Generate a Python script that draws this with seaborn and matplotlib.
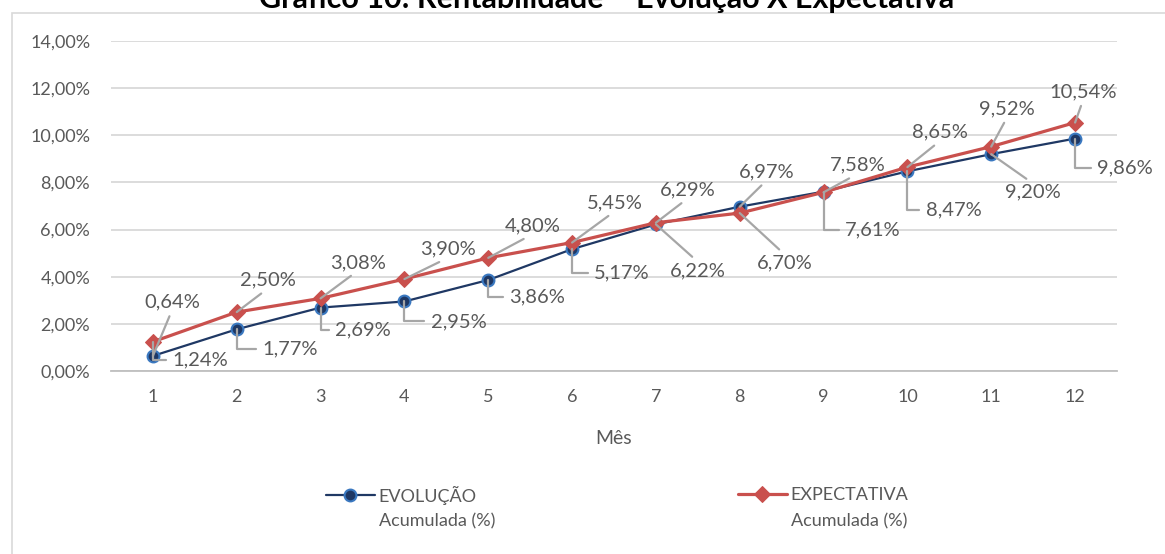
import matplotlib
matplotlib.use("Agg")
import matplotlib.pyplot as plt
import matplotlib.ticker as mticker
from matplotlib.patches import Rectangle
import pandas as pd
import seaborn as sns

# ── data ────────────────────────────────────────────────────────────────
meses = list(range(1, 13))
evolucao = [0.64, 1.77, 2.69, 2.95, 3.86, 5.17, 6.22, 6.97, 7.61, 8.47, 9.20, 9.86]
expectativa = [1.24, 2.50, 3.08, 3.90, 4.80, 5.45, 6.29, 6.70, 7.58, 8.65, 9.52, 10.54]
serie_nomes = ["EVOLUÇÃO", "EXPECTATIVA"]
legenda_sub = "Acumulada (%)"
titulo = "Gráfico 10: Rentabilidade – Evolução X Expectativa"
eixo_x = "Mês"
y_ticks = [0, 2, 4, 6, 8, 10, 12, 14]

# label layout: pixel offset from the point (screen y down) and leader type
pos_evol = [(19, -54, "up"), (53, 20, "elbow"), (42, 22, "elbow"), (54, 20, "elbow"),
            (49, 17, "elbow"), (50, 24, "elbow"), (42, 46, "down"), (27, -35, "up"),
            (49, 38, "elbow"), (46, 39, "elbow"), (42, 38, "down"), (50, 29, "elbow")]
pos_expe = [(47, 18, "elbow"), (31, -32, "up"), (37, -36, "up"), (44, -30, "up"),
            (44, -32, "up"), (43, -40, "up"), (32, -33, "up"), (45, 50, "down"),
            (34, -27, "up"), (33, -35, "up"), (16, -38, "up"), (8, -31, "up")]

W, H = 1165, 554
TXT = "#595959"
LEAD = "#a6a6a6"
GRID = "#d9d9d9"
BLUE = "#1f3864"
BLUE_EDGE = "#3a78c0"
RED = "#c9504d"


def pct(v, _=None):
    return f"{v:.2f}%".replace(".", ",")


sns.set_style("white")
plt.rcParams["font.family"] = ["Lato", "DejaVu Sans"]

fig = plt.figure(figsize=(W / 100, H / 100), dpi=100)
ax = fig.add_axes([111 / W, 1 - 371 / H, 1006 / W, 330 / H])

df = pd.DataFrame({"mes": meses, "evolucao": evolucao, "expectativa": expectativa})

sns.lineplot(data=df, x="mes", y="evolucao", color=BLUE, lw=1.6, marker="o", markersize=8.5,
             markerfacecolor=BLUE, markeredgecolor=BLUE_EDGE, markeredgewidth=1.5, ax=ax, zorder=3)
sns.lineplot(data=df, x="mes", y="expectativa", color=RED, lw=2.3, marker="D", markersize=8,
             markerfacecolor=RED, markeredgecolor=RED, ax=ax, zorder=4)
line_ev, line_ex = ax.get_lines()[:2]

ax.set_xlim(0.5, 12.5)
ax.set_ylim(0, 14)
ax.set_xticks(meses)
ax.set_yticks(y_ticks)
ax.yaxis.set_major_formatter(mticker.FuncFormatter(pct))
ax.grid(axis="y", color=GRID, lw=1.3)
ax.grid(axis="x", visible=False)
for side in ["top", "right", "left"]:
    ax.spines[side].set_visible(False)
ax.spines["bottom"].set_color("#bfbfbf")
ax.spines["bottom"].set_linewidth(1.3)
ax.tick_params(axis="both", length=0, colors=TXT, labelsize=13)
ax.tick_params(axis="y", pad=15)
ax.tick_params(axis="x", pad=13)
ax.set_xlabel(eixo_x, fontsize=14, color=TXT, labelpad=18)
ax.set_ylabel("")


def rotular(valores, posicoes):
    for m, v, (dx, dy, kind) in zip(meses, valores, posicoes):
        props = dict(arrowstyle="-", color=LEAD, lw=1.6, shrinkA=2, shrinkB=0)
        if kind == "up":
            props["relpos"] = (0.5, 0)
        elif kind == "down":
            props["relpos"] = (0.5, 1)
        else:
            props["relpos"] = (0, 0.5)
            props["connectionstyle"] = "angle,angleA=0,angleB=90,rad=0"
        ax.annotate(pct(v), xy=(m, v), xytext=(dx, -dy), textcoords="offset pixels",
                    ha="center", va="center", fontsize=14.5, color=TXT,
                    arrowprops=props, zorder=6)


rotular(evolucao, pos_evol)
rotular(expectativa, pos_expe)

# legend: one per series, second line of text below
for handle, nome, x0 in [(line_ev, serie_nomes[0], 326), (line_ex, serie_nomes[1], 738)]:
    leg = fig.legend(handles=[handle], labels=[nome], loc="center left",
                     bbox_to_anchor=(x0 / W, 1 - 495 / H), frameon=False, fontsize=13,
                     handlelength=2.7, handletextpad=0.22, borderpad=0, borderaxespad=0,
                     labelcolor=TXT)
    fig.text((x0 + 53) / W, 1 - 521 / H, legenda_sub, fontsize=13, color=TXT, va="center")

# chart frame and (clipped) title
fig.patches.append(Rectangle((12 / W, -0.05), 1.1, 1 - 13 / H + 0.05, transform=fig.transFigure,
                             fill=False, edgecolor=GRID, lw=1.2))
fig.text(607 / W, 1 - 8 / H, titulo, ha="center", va="baseline", fontsize=22,
         fontweight="bold", color="black")

fig.savefig("out.png", dpi=100)
